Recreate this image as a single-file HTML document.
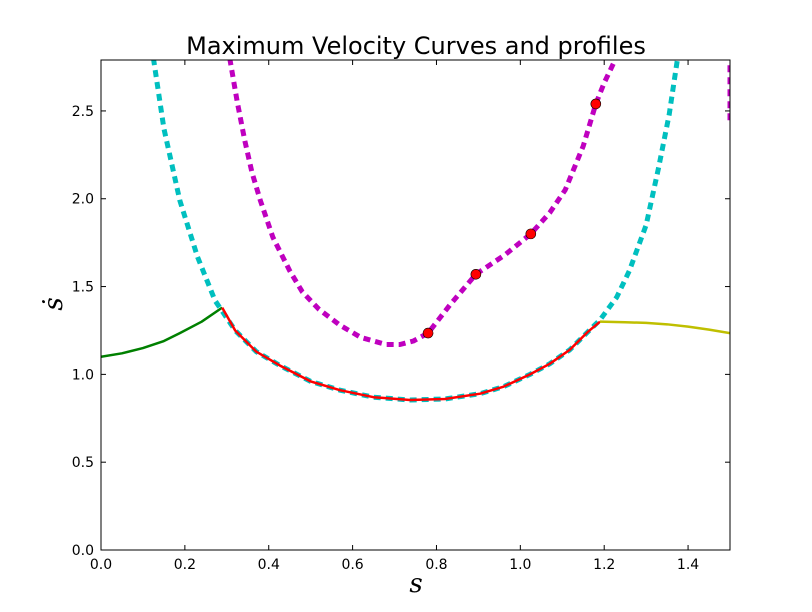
<!DOCTYPE html>
<html><head><meta charset="utf-8"><style>
body{margin:0;background:#fff;}
svg{display:block;font-family:"DejaVu Sans","Liberation Sans",sans-serif;}
</style></head><body>
<svg width="812" height="612">
<rect width="812" height="612" fill="#fff"/>
<text x="416" y="54" font-size="24" text-anchor="middle">Maximum Velocity Curves and profiles</text>
<g id="plot"></g>
<text x="416" y="592" font-size="26" font-style="italic" font-family="DejaVu Serif,serif" text-anchor="middle">s</text>
<text transform="translate(62,304) rotate(-90)" font-size="26" font-style="italic" font-family="DejaVu Serif,serif" text-anchor="middle">ṡ</text>
</svg>
<script>
const xTicks=[0,0.2,0.4,0.6,0.8,1.0,1.2,1.4];
const yTicks=[0,0.5,1.0,1.5,2.0,2.5];
const mvcS=[0.125,0.15,0.188,0.23,0.272,0.32,0.37,0.427,0.5,0.57,0.65,0.737,0.82,0.904,0.96,1.023,1.07,1.118,1.16,1.19,1.23,1.26,1.3,1.33,1.355,1.375];
const mvcV=[2.8,2.4,1.99,1.67,1.42,1.25,1.13,1.05,0.96,0.91,0.87,0.854,0.86,0.89,0.93,1.0,1.06,1.14,1.24,1.31,1.44,1.59,1.85,2.18,2.48,2.8];
const mvc2S=[0.307,0.325,0.343,0.36,0.38,0.41,0.45,0.48,0.52,0.57,0.62,0.68,0.713,0.745,0.78,0.832,0.894,0.963,1.025,1.07,1.107,1.15,1.18,1.2,1.228];
const mvc2V=[2.8,2.55,2.33,2.15,1.99,1.78,1.59,1.47,1.37,1.28,1.21,1.17,1.17,1.19,1.235,1.395,1.57,1.68,1.80,1.92,2.05,2.3,2.54,2.66,2.8];
const mvc3S=[1.5,1.5];
const mvc3V=[2.76,2.42];
const dotS=[0.78,0.894,1.025,1.18];
const dotV=[1.235,1.57,1.80,2.54];
const fwdS=[0,0.05,0.1,0.15,0.188,0.24,0.289];
const fwdV=[1.1,1.12,1.15,1.19,1.235,1.3,1.38];
const profS=[0.289,0.32,0.37,0.427,0.5,0.57,0.65,0.737,0.82,0.904,0.96,1.023,1.07,1.118,1.16,1.19];
const profV=[1.38,1.25,1.13,1.05,0.96,0.91,0.87,0.854,0.86,0.89,0.93,1.0,1.06,1.14,1.24,1.30];
const bwdS=[1.19,1.25,1.3,1.35,1.4,1.45,1.5];
const bwdV=[1.30,1.297,1.293,1.285,1.272,1.255,1.235];
const L=101,R=730,T=60,B=550,XMAX=1.5,YMAX=2.79;
const X=s=>L+(R-L)*s/XMAX, Y=v=>B-(B-T)*v/YMAX;
const NS="http://www.w3.org/2000/svg", g=document.getElementById('plot');
function mk(t,a){const e=document.createElementNS(NS,t);for(const k in a)e.setAttribute(k,a[k]);g.appendChild(e);return e;}
const defs=mk('defs',{});const cp=document.createElementNS(NS,'clipPath');cp.setAttribute('id','c');
const cr=document.createElementNS(NS,'rect');cr.setAttribute('x',L);cr.setAttribute('y',T);cr.setAttribute('width',R-L);cr.setAttribute('height',B-T);cp.appendChild(cr);defs.appendChild(cp);
function line(S,V,st,name){const e=mk('polyline',Object.assign({points:S.map((s,i)=>X(s)+','+Y(V[i])).join(' '),fill:'none','clip-path':'url(#c)','stroke-linejoin':'round'},st));

}
line(mvcS,mvcV,{stroke:'#00bfbf','stroke-width':5,'stroke-dasharray':'7,5'},'mvc-cyan');
line(mvc2S,mvc2V,{stroke:'#bf00bf','stroke-width':5,'stroke-dasharray':'7,5'},'mvc-magenta');
line(mvc3S,mvc3V,{stroke:'#bf00bf','stroke-width':5,'stroke-dasharray':'7,5'},'mvc-magenta-right');
line(fwdS,fwdV,{stroke:'#008000','stroke-width':2.5},'forward-profile');
line(profS,profV,{stroke:'#ff0000','stroke-width':2.5},'red-profile');
line(bwdS,bwdV,{stroke:'#bfbf00','stroke-width':2.5},'backward-profile');
dotS.forEach((s,i)=>{const c=mk('circle',{cx:X(s),cy:Y(dotV[i]),r:5,fill:'#ff0000',stroke:'#000','stroke-width':0.6});

});
const fr=mk('rect',{x:L,y:T,width:R-L,height:B-T,fill:'none',stroke:'#000','stroke-width':1});


xTicks.forEach(t=>{const x=X(t);mk('line',{x1:x,x2:x,y1:B,y2:B-5,stroke:'#000'});mk('line',{x1:x,x2:x,y1:T,y2:T+5,stroke:'#000'});
const tx=mk('text',{x:x,y:B+19,'font-size':14,'text-anchor':'middle'});tx.textContent=t.toFixed(1);

});
yTicks.forEach(t=>{const y=Y(t);mk('line',{x1:L,x2:L+5,y1:y,y2:y,stroke:'#000'});mk('line',{x1:R,x2:R-5,y1:y,y2:y,stroke:'#000'});
const tx=mk('text',{x:L-7,y:y+5,'font-size':14,'text-anchor':'end'});tx.textContent=t.toFixed(1);

});
</script>
</body></html>
